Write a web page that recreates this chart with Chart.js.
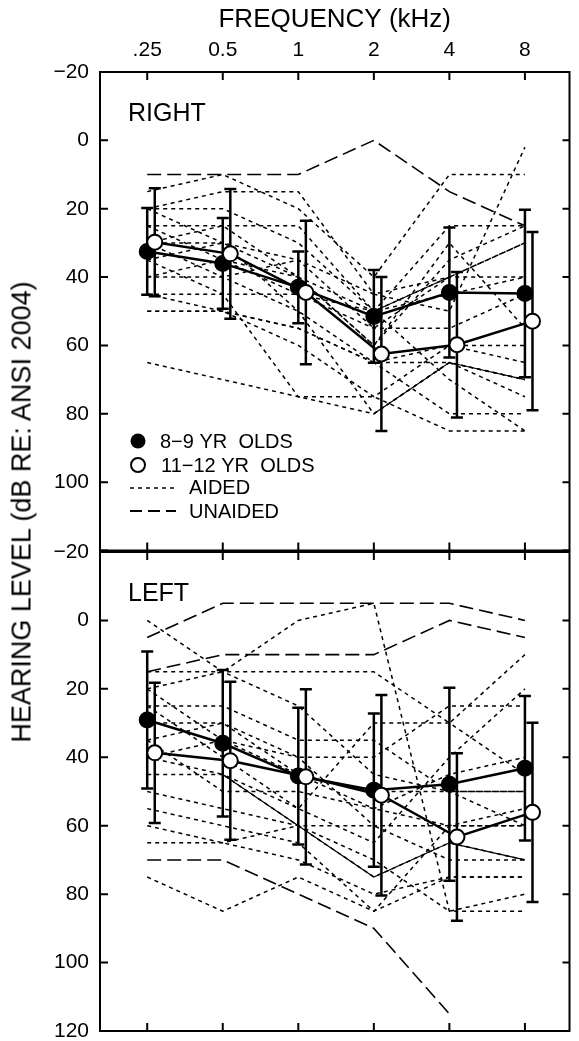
<!DOCTYPE html>
<html>
<head>
<meta charset="utf-8">
<title>Hearing level by frequency</title>
<script src="https://cdn.jsdelivr.net/npm/chart.js@4.4.0/dist/chart.umd.min.js"></script>
<style>
  html, body { margin: 0; padding: 0; background: #fff; }
  body { width: 579px; height: 1041px; position: relative; overflow: hidden; }
  #rightPanel { position: absolute; left: 0; top: 0; }
  #leftPanel { position: absolute; left: 0; top: 536px; }
  #yTitle {
    position: absolute; left: 22px; top: 512px;
    transform: translate(-50%, -50%) rotate(-90deg);
    white-space: nowrap; font: 27px "Liberation Sans", Arial, sans-serif; color: #000;
  }
</style>
</head>
<body>
<canvas id="rightPanel" width="579" height="560"></canvas>
<canvas id="leftPanel" width="579" height="505"></canvas>
<div id="yTitle">HEARING LEVEL (dB RE: ANSI 2004)</div>

<script>
// axis labels
const freqLabels = ['.25', '0.5', '1', '2', '4', '8'];
const yTicks = [-20, 0, 20, 40, 60, 80, 100, 120];

// group means and SDs (dB HL), right ear
const youngMeanRight = [32.5, 36, 43, 51.5, 44.5, 44.8];
const youngSdRight   = [12.7, 13.3, 10.5, 13.6, 19, 24.5];
const oldMeanRight   = [29.8, 33.2, 44.5, 62.5, 59.8, 52.9];
const oldSdRight     = [15.8, 19, 21, 22.5, 21.3, 26.1];

// left ear
const youngMeanLeft = [29.1, 35.9, 45.5, 49.6, 47.9, 43.2];
const youngSdLeft   = [20, 21.4, 20, 22.4, 28.2, 21.1];
const oldMeanLeft   = [38.7, 41, 45.7, 51.1, 63.3, 56.1];
const oldSdLeft     = [20.5, 23.1, 25.6, 29.3, 24.5, 26.2];

// individual ears, right
const aidedRight = [
  [15, 10, 20, 40, 10, 10],
  [20, 15, 15, 45, 50, 2],
  [25, 25, 25, 50, 25, 25],
  [30, 30, 35, 55, 40, 40],
  [40, 35, 40, 60, 35, 25],
  [45, 45, 45, 55, 55, 45],
  [50, 50, 55, 65, 60, 60],
  [45, 50, 60, 75, 60, 65],
  [30, 40, 50, 65, 80, 80],
  [35, 45, 75, 75, 85, 85],
  [25, 35, 45, 50, 70, 85],
  [20, 30, 50, 80, 65, 70],
  [40, 40, 35, 45, 40, 30],
  [30, 25, 40, 60, 30, 55],
  [20, 20, 30, 50, 45, 40],
  [50, 50, 55, 65, 65, 75],
  [35, 30, 40, 50, 40, 30],
  [65, 70, 75, 80, 65, 70]
];
// stretches of those ears that print as a thin solid line
const solidRight = [
  [null, null, null, 50, 40, null],
  [null, null, null, 80, 65, 70]
];
const unaidedRight = [
  [10, 10, 10, 0, 15, 25]
];

// individual ears, left
const aidedLeft = [
  [0, 15, 25, 45, 50, 60],
  [20, 15, 0, -5, 85, 85],
  [15, 15, 15, 15, 30, 10],
  [25, 25, 35, 35, 50, 50],
  [30, 30, 40, 40, 25, 25],
  [35, 30, 45, 50, 50, 50],
  [40, 35, 40, 60, 60, 60],
  [45, 45, 55, 30, 30, 45],
  [50, 55, 60, 60, 70, 70],
  [55, 60, 65, 85, 60, 60],
  [60, 65, 70, 80, 75, 75],
  [65, 65, 60, 70, 85, 80],
  [75, 85, 75, 85, 75, 75],
  [25, 40, 55, 65, 40, 20],
  [35, 50, 50, 55, 60, 55],
  [20, 35, 45, 55, 45, 40],
  [40, 45, 60, 75, 65, 70]
];
const solidLeft = [
  [null, 45, 60, 75, 65, 70]
];
const unaidedLeft = [
  [5, -5, -5, -5, -5, 0],
  [15, 10, 10, 10, 0, 5],
  [70, 70, 80, 90, 115, null]
];

const FONT = '"Liberation Sans", Arial, sans-serif';
Chart.defaults.font.family = FONT;
Chart.defaults.color = '#000';

function pts(vals, dx) {
  return vals.map((v, i) => ({ x: i + dx, y: v }));
}

function earLine(vals, dash, width) {
  return {
    data: pts(vals, 0), borderColor: '#000', borderWidth: width, borderDash: dash,
    pointRadius: 0, fill: false, tension: 0, spanGaps: false
  };
}

function meanLine(vals, dx, filled) {
  return {
    data: pts(vals, dx), borderColor: '#000', borderWidth: 2.5,
    pointRadius: 7.5, pointBorderWidth: 2, pointBorderColor: '#000',
    pointBackgroundColor: filled ? '#000' : '#fff', fill: false, tension: 0
  };
}

// error bars go in just before the filled-circle series, so circles sit on top
const errorBars = {
  id: 'errorBars',
  beforeDatasetDraw(chart, args, opts) {
    if (args.index !== 1) return;
    const { ctx, scales: { x, y } } = chart;
    ctx.save();
    ctx.strokeStyle = '#000';
    ctx.lineWidth = 2.5;
    ctx.setLineDash([]);
    opts.groups.forEach(g => {
      g.mean.forEach((m, i) => {
        const px = x.getPixelForValue(i + g.dx);
        const top = y.getPixelForValue(m - g.sd[i]);
        const bot = y.getPixelForValue(m + g.sd[i]);
        ctx.beginPath();
        ctx.moveTo(px, top); ctx.lineTo(px, bot);
        ctx.moveTo(px - 6, top); ctx.lineTo(px + 6, top);
        ctx.moveTo(px - 6, bot); ctx.lineTo(px + 6, bot);
        ctx.stroke();
      });
    });
    ctx.restore();
  }
};

// box round the plot with inward ticks, panel name, legend
const frame = {
  id: 'frame',
  afterDatasetsDraw(chart, args, opts) {
    const { ctx, chartArea: a, scales: { x, y } } = chart;
    ctx.save();
    ctx.strokeStyle = '#000';
    ctx.fillStyle = '#000';
    ctx.setLineDash([]);
    ctx.lineWidth = 2;
    ctx.strokeRect(a.left, a.top, a.right - a.left, a.bottom - a.top);
    ctx.beginPath();
    yTicks.forEach(v => {
      const py = y.getPixelForValue(v);
      ctx.moveTo(a.left, py); ctx.lineTo(a.left + 8, py);
      ctx.moveTo(a.right, py); ctx.lineTo(a.right - 7, py);
    });
    freqLabels.forEach((_, i) => {
      const px = x.getPixelForValue(i);
      ctx.moveTo(px, a.top); ctx.lineTo(px, a.top + 8);
      ctx.moveTo(px, a.bottom); ctx.lineTo(px, a.bottom - 8);
    });
    ctx.stroke();

    ctx.textBaseline = 'middle';
    ctx.textAlign = 'left';
    ctx.font = '25px ' + FONT;
    ctx.fillText(opts.panel, a.left + 28, a.top + 42);

    if (opts.legend) {
      const lx = a.left + 38, ly = a.top + 369;
      ctx.font = '20px ' + FONT;
      ctx.beginPath();
      ctx.arc(lx, ly, 7.5, 0, Math.PI * 2);
      ctx.fill();
      ctx.fillText('8\u22129 YR  OLDS', lx + 22, ly + 1);
      ctx.beginPath();
      ctx.arc(lx, ly + 24, 7, 0, Math.PI * 2);
      ctx.fillStyle = '#fff';
      ctx.fill();
      ctx.lineWidth = 2;
      ctx.stroke();
      ctx.fillStyle = '#000';
      ctx.fillText('11\u221212 YR  OLDS', lx + 23, ly + 25);
      ctx.lineWidth = 1.5;
      ctx.setLineDash([4, 4]);
      ctx.beginPath();
      ctx.moveTo(lx - 8, ly + 47); ctx.lineTo(lx + 38, ly + 47);
      ctx.stroke();
      ctx.fillText('AIDED', lx + 51, ly + 47);
      ctx.lineWidth = 2;
      ctx.setLineDash([12, 6]);
      ctx.beginPath();
      ctx.moveTo(lx - 8, ly + 70); ctx.lineTo(lx + 38, ly + 70);
      ctx.stroke();
      ctx.fillText('UNAIDED', lx + 51, ly + 71);
    }
    ctx.restore();
  }
};

function makePanel(id, p) {
  const datasets = [
    meanLine(p.oldMean, 0.1, false),
    meanLine(p.youngMean, 0, true)
  ];
  p.solid.forEach(v => datasets.push(earLine(v, [], 1.2)));
  p.aided.forEach(v => datasets.push(earLine(v, [4, 4], 1.5)));
  p.unaided.forEach(v => datasets.push(earLine(v, [14, 6], 1.6)));

  return new Chart(document.getElementById(id), {
    type: 'line',
    data: { datasets },
    options: {
      responsive: false,
      animation: false,
      devicePixelRatio: 1,
      layout: { padding: p.padding },
      plugins: {
        legend: { display: false },
        tooltip: { enabled: false },
        errorBars: {
          groups: [
            { mean: p.youngMean, sd: p.youngSd, dx: 0 },
            { mean: p.oldMean, sd: p.oldSd, dx: 0.1 }
          ]
        },
        frame: { panel: p.panel, legend: p.legend }
      },
      scales: {
        x: {
          type: 'linear', position: 'top', min: -0.625, max: 5.59,
          display: p.showX,
          grid: { display: false, drawTicks: false },
          border: { display: false },
          afterBuildTicks: s => { s.ticks = freqLabels.map((_, i) => ({ value: i })); },
          ticks: { callback: v => freqLabels[v], font: { size: 21 }, padding: 9, maxRotation: 0 },
          title: { display: true, text: 'FREQUENCY (kHz)', font: { size: 26 }, padding: { top: 4, bottom: 0 } },
          afterFit: s => {
            s.height = p.showX ? 72 : 0;
            s.paddingLeft = 0; s.paddingRight = 0;
          }
        },
        y: {
          reverse: true, min: -20, max: 120,
          grid: { display: false, drawTicks: false },
          border: { display: false },
          afterBuildTicks: s => { s.ticks = yTicks.map(v => ({ value: v })); },
          ticks: {
            font: { size: 21 }, padding: 11,
            callback: v => (v > p.maxLabel ? '' : (v < 0 ? '\u2212' + Math.abs(v) : String(v)))
          },
          afterFit: s => { s.width = 100; s.paddingTop = 0; s.paddingBottom = 0; }
        }
      }
    },
    plugins: [errorBars, frame]
  });
}

makePanel('rightPanel', {
  panel: 'RIGHT', legend: true, showX: true, maxLabel: 100,
  padding: { top: 0, left: 0, right: 2, bottom: 8 },
  youngMean: youngMeanRight, youngSd: youngSdRight,
  oldMean: oldMeanRight, oldSd: oldSdRight,
  aided: aidedRight, solid: solidRight, unaided: unaidedRight
});

makePanel('leftPanel', {
  panel: 'LEFT', legend: false, showX: false, maxLabel: 120,
  padding: { top: 16, left: 0, right: 2, bottom: 10 },
  youngMean: youngMeanLeft, youngSd: youngSdLeft,
  oldMean: oldMeanLeft, oldSd: oldSdLeft,
  aided: aidedLeft, solid: solidLeft, unaided: unaidedLeft
});
</script>
</body>
</html>
